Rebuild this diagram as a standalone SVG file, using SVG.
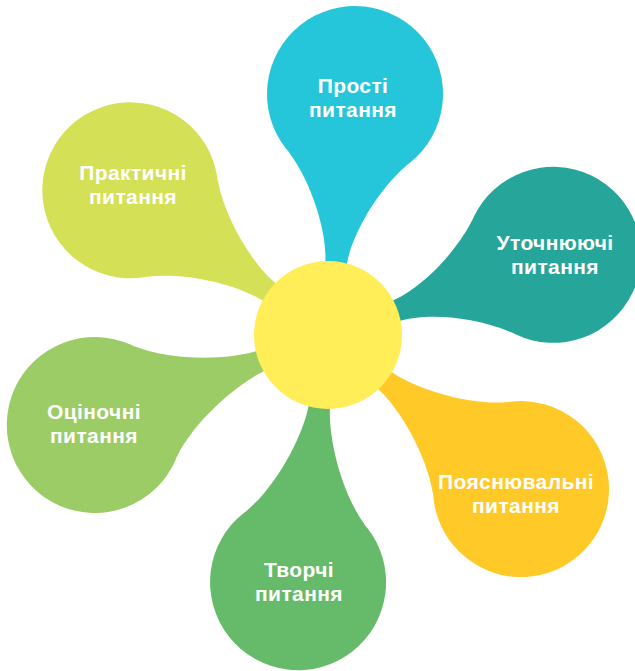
<svg xmlns="http://www.w3.org/2000/svg" width="635" height="671" viewBox="0 0 635 671">
<style>
.lbl{font-family:"Liberation Sans",Arial,sans-serif;font-weight:bold;font-size:21px;letter-spacing:0.4px;fill:#ffffff;text-anchor:middle}
</style>
<rect width="635" height="671" fill="#ffffff"/>
<g id="petal-prosti">
  <g transform="translate(328,335) rotate(6.4)" fill="#26C6DA">
    <circle cx="0" cy="-242.5" r="88"/>
    <path d="M -8,-50 L -11,-75 C -13,-100 -30,-145.5 -59.3,-177.5 L 59.3,-177.5 C 30,-145.5 13,-100 11,-75 L 8,-50 Z"/>
  </g>
  <text class="lbl" x="353" y="93"><tspan x="353">Прості</tspan><tspan x="353" dy="23.5">питання</tspan></text>
</g>
<g id="petal-utochnyuyuchi">
  <g transform="translate(328,335) rotate(70.4)" fill="#26A69A">
    <circle cx="0" cy="-239" r="88"/>
    <path d="M -8,-50 L -11,-75 C -13,-100 -30,-142 -59.3,-174 L 59.3,-174 C 30,-142 13,-100 11,-75 L 8,-50 Z"/>
  </g>
  <text class="lbl" x="555" y="250"><tspan x="555">Уточнюючі</tspan><tspan x="555" dy="23.5">питання</tspan></text>
</g>
<g id="petal-poyasnyuvalni">
  <g transform="translate(328,335) rotate(128.6)" fill="#FFCA28">
    <circle cx="0" cy="-247" r="88"/>
    <path d="M -8,-50 L -11,-75 C -13,-100 -30,-150 -59.3,-182 L 59.3,-182 C 30,-150 13,-100 11,-75 L 8,-50 Z"/>
  </g>
  <text class="lbl" x="516" y="489"><tspan x="516">Пояснювальні</tspan><tspan x="516" dy="23.5">питання</tspan></text>
</g>
<g id="petal-tvorchi">
  <g transform="translate(328,335) rotate(186.9)" fill="#66BB6A">
    <circle cx="0" cy="-249" r="88"/>
    <path d="M -8,-50 L -11,-75 C -13,-100 -30,-152 -59.3,-184 L 59.3,-184 C 30,-152 13,-100 11,-75 L 8,-50 Z"/>
  </g>
  <text class="lbl" x="299" y="577"><tspan x="299">Творчі</tspan><tspan x="299" dy="23.5">питання</tspan></text>
</g>
<g id="petal-otsinochni">
  <g transform="translate(328,335) rotate(248.9)" fill="#9CCC65">
    <circle cx="0" cy="-250" r="88"/>
    <path d="M -8,-50 L -11,-75 C -13,-100 -30,-153 -59.3,-185 L 59.3,-185 C 30,-153 13,-100 11,-75 L 8,-50 Z"/>
  </g>
  <text class="lbl" x="94" y="419"><tspan x="94">Оціночні</tspan><tspan x="94" dy="23.5">питання</tspan></text>
</g>
<g id="petal-praktychni">
  <g transform="translate(328,335) rotate(306.2)" fill="#D4E157">
    <circle cx="0" cy="-245" r="88"/>
    <path d="M -8,-50 L -11,-75 C -13,-100 -30,-148 -59.3,-180 L 59.3,-180 C 30,-148 13,-100 11,-75 L 8,-50 Z"/>
  </g>
  <text class="lbl" x="133" y="180"><tspan x="133">Практичні</tspan><tspan x="133" dy="23.5">питання</tspan></text>
</g>
<g id="connectors"></g>
<g id="center">
  <circle cx="328" cy="335" r="74" fill="#FFEE58"/>
</g>
</svg>
